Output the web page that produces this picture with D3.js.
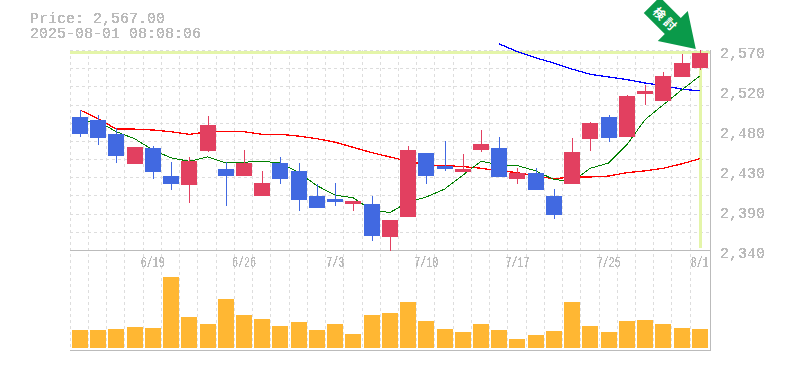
<!DOCTYPE html>
<html>
<head>
<meta charset="utf-8">
<script src="https://cdn.jsdelivr.net/npm/d3@7"></script>
<style>
  html, body { margin: 0; background: #fff; }
  svg { display: block; }
  text { font-family: "Liberation Mono", monospace; fill: #bbb; }
</style>
</head>
<body>
<div id="chart"></div>
<script>
const dates = ['6/13','6/16','6/17','6/18','6/19','6/20','6/23','6/24','6/25','6/26','6/27','6/30','7/1','7/2','7/3','7/4','7/7','7/8','7/9','7/10','7/11','7/14','7/15','7/16','7/17','7/18','7/22','7/23','7/24','7/25','7/28','7/29','7/30','7/31','8/1'];

const openPrice = [2493,2490,2473,2439,2457,2425,2415,2454,2433,2425,2402,2440,2431,2402,2399,2393,2393,2355,2378,2452,2437,2430,2455,2457,2422,2429,2402,2416,2468,2493,2470,2519,2511,2539,2549];
const closePrice = [2473,2469,2448,2458,2430,2416,2442,2484,2425,2440,2417,2422,2398,2388,2395,2396,2356,2375,2455,2425,2433,2433,2462,2424,2429,2409,2380,2453,2486,2469,2517,2523,2540,2555,2567];
const highPrice = [2501,2495,2480,2458,2460,2441,2447,2494,2441,2455,2431,2447,2440,2416,2417,2396,2402,2375,2460,2452,2465,2450,2478,2470,2434,2434,2410,2469,2487,2495,2518,2530,2545,2565,2570];
const lowPrice = [2470,2461,2440,2439,2422,2409,2394,2453,2391,2425,2402,2416,2385,2388,2391,2385,2350,2339,2378,2416,2431,2430,2453,2424,2416,2409,2376,2416,2454,2464,2470,2507,2511,2539,2547];

const volume = [18,18,19,21,20,71,31,24,49,33,29,22,26,18,24,14,33,35,46,27,19,16,24,18,9,13,17,46,22,16,27,28,24,20,19]; // thousand shares

// moving averages, the blue one only starts late in the window
const maShort = [2488,2488,2476,2468,2455,2446,2442,2447,2440,2441,2442,2440,2429,2414,2403,2400,2386,2383,2395,2401,2410,2426,2442,2438,2437,2431,2421,2419,2434,2440,2461,2490,2507,2524,2540];
const maMid = [2501,2491,2479,2479,2478,2476,2473,2476,2476,2476,2473,2473,2471,2468,2464,2458,2452,2447,2442,2438,2437,2436,2434,2431,2429,2425,2422,2424,2424,2425,2429,2431,2434,2439,2445];
const maLongDates = ['7/16','7/17','7/18','7/22','7/23','7/24','7/25','7/28','7/29','7/30','7/31','8/1'];
const maLong = [2577,2568,2561,2555,2548,2542,2539,2536,2532,2529,2525,2523];

const priceTicks = [2570,2524,2478,2432,2386,2340];
const dateTicks = ['6/19','6/26','7/3','7/10','7/17','7/25','8/1'];

const chartWidth = 785;
const chartHeight = 370;
const plotLeft = 70;
const plotRight = 710;
const plotTop = 50;
const priceBottom = 250;
const volumeBottom = 350;

const svg = d3.select('#chart').append('svg')
  .attr('width', chartWidth)
  .attr('height', chartHeight);

// hard edged text like the original bitmap font
const defs = svg.append('defs');
defs.append('filter').attr('id', 'hard')
  .append('feComponentTransfer')
  .append('feFuncA').attr('type', 'discrete').attr('tableValues', '0 1 1');

const x = d3.scaleBand()
  .domain(dates)
  .range([plotLeft + 0.8, plotRight - 1.1])
  .paddingInner(0.12)
  .paddingOuter(0.06);

const step = x.step();
const xMid = d => x(d) + x.bandwidth() / 2;
const xLeft = d => Math.round(x(d));

const y = d3.scaleLinear().domain([2340, 2570]).range([priceBottom, plotTop]);
const yVol = d3.scaleLinear().domain([0, 100]).range([volumeBottom - 2, volumeBottom - 102]);

// grid
const grid = svg.append('g')
  .attr('stroke', '#ddd')
  .attr('stroke-dasharray', '3,3')
  .attr('shape-rendering', 'crispEdges');

grid.selectAll('line.v')
  .data(dates)
  .join('line')
  .attr('class', 'v')
  .attr('x1', d => Math.round(x(d) - step * 0.06) - 0.5)
  .attr('x2', d => Math.round(x(d) - step * 0.06) - 0.5)
  .attr('y1', plotTop)
  .attr('y2', volumeBottom);

grid.selectAll('line.h')
  .data(d3.range(0, 11))
  .join('line')
  .attr('class', 'h')
  .attr('x1', plotLeft)
  .attr('x2', plotRight)
  .attr('y1', i => Math.round(y(2570 - i * 230 / 11)) + 0.5)
  .attr('y2', i => Math.round(y(2570 - i * 230 / 11)) + 0.5);

// highlight for the latest price and date
const lastDate = dates[dates.length - 1];
const lastClose = closePrice[closePrice.length - 1];
svg.append('rect')
  .attr('x', plotLeft)
  .attr('y', Math.round(y(lastClose)) - 2)
  .attr('width', plotRight - plotLeft)
  .attr('height', 3)
  .attr('fill', '#e4f5a9');
svg.append('rect')
  .attr('x', Math.round(xMid(lastDate)) - 1)
  .attr('y', Math.round(y(lastClose)) - 2)
  .attr('width', 3)
  .attr('height', 197)
  .attr('fill', '#e4f5a9');

// frame lines
const frame = svg.append('g').attr('stroke', '#bbb').attr('shape-rendering', 'crispEdges');
frame.append('line').attr('x1', plotLeft).attr('x2', plotRight + 1).attr('y1', priceBottom + 0.5).attr('y2', priceBottom + 0.5);
frame.append('line').attr('x1', plotLeft).attr('x2', plotRight + 1).attr('y1', volumeBottom + 0.5).attr('y2', volumeBottom + 0.5);
frame.append('line').attr('x1', plotRight + 0.5).attr('x2', plotRight + 0.5).attr('y1', plotTop).attr('y2', volumeBottom);

// volume
svg.append('g').selectAll('rect')
  .data(dates)
  .join('rect')
  .attr('x', xLeft)
  .attr('y', (d, i) => yVol(volume[i]))
  .attr('width', 16)
  .attr('height', (d, i) => yVol(0) - yVol(volume[i]))
  .attr('fill', '#ffb733');

// moving averages
const line = d3.line().x(d => xMid(d[0])).y(d => y(d[1]));
const drawLine = (days, values, color, w) => svg.append('path')
  .attr('d', line(days.map((d, i) => [d, values[i]])))
  .attr('fill', 'none')
  .attr('stroke', color)
  .attr('stroke-width', w)
  .attr('shape-rendering', 'crispEdges');

drawLine(maLongDates, maLong, '#0000ff', 1.3);
drawLine(dates, maMid, '#ff0000', 1.3);
drawLine(dates, maShort, '#008000', 1);

// candles
const upColor = '#e24060';
const downColor = '#4169e1';
const candleColor = (d, i) => closePrice[i] >= openPrice[i] ? upColor : downColor;

svg.append('g').selectAll('rect')
  .data(dates)
  .join('rect')
  .attr('x', d => xLeft(d) + 8)
  .attr('y', (d, i) => Math.round(y(highPrice[i])))
  .attr('width', 1)
  .attr('height', (d, i) => Math.round(y(lowPrice[i])) - Math.round(y(highPrice[i])))
  .attr('fill', candleColor);

svg.append('g').selectAll('rect')
  .data(dates)
  .join('rect')
  .attr('x', xLeft)
  .attr('y', (d, i) => Math.round(y(Math.max(openPrice[i], closePrice[i]))))
  .attr('width', 16)
  .attr('height', (d, i) => Math.max(1, Math.round(y(Math.min(openPrice[i], closePrice[i]))) - Math.round(y(Math.max(openPrice[i], closePrice[i])))))
  .attr('fill', candleColor);

// axes
const yAxis = d3.axisRight(y)
  .tickValues(priceTicks)
  .tickSize(0)
  .tickPadding(0)
  .tickFormat(v => d3.format(',')(Math.round(v / 10) * 10));

svg.append('g')
  .attr('transform', `translate(720,0)`)
  .call(yAxis)
  .call(g => g.select('.domain').remove())
  .attr('font-family', null)
  .selectAll('text')
  .attr('dy', 7.5)
  .attr('font-size', 15)
  .attr('filter', 'url(#hard)');

const xAxis = d3.axisBottom(x)
  .tickValues(dateTicks)
  .tickSize(0)
  .tickPadding(0);

svg.append('g')
  .attr('transform', `translate(0,${priceBottom})`)
  .call(xAxis)
  .call(g => g.select('.domain').remove())
  .attr('font-family', null)
  .selectAll('text')
  .attr('y', 17)
  .attr('dy', 0)
  .attr('font-size', 14)
  .attr('textLength', d => d.length * 6)
  .attr('lengthAdjust', 'spacingAndGlyphs')
  .attr('filter', 'url(#hard)');

// price header
const header = svg.append('g').attr('font-size', 15).attr('filter', 'url(#hard)');
header.append('text').attr('x', 30).attr('y', 23).text('Price: 2,567.00');
header.append('text').attr('x', 30).attr('y', 38).text('2025-08-01 08:08:06');

// arrow pointing at the latest candle
const arrow = svg.append('g')
  .attr('transform', `translate(${xMid(lastDate) - 4},${y(highPrice[highPrice.length - 1]) - 1})`);
arrow.append('polygon')
  .attr('points', '0,0 -8,-38 -15,-31 -36,-52 -52,-36 -31,-15 -38,-8')
  .attr('fill', '#0a9a4a');
arrow.append('text')
  .attr('transform', 'translate(-30,-29) rotate(45)')
  .attr('text-anchor', 'middle')
  .attr('dy', '0.36em')
  .attr('font-size', 12)
  .attr('font-weight', 700)
  .attr('letter-spacing', 3)
  .style('font-family', '"Noto Sans CJK JP"')
  .style('fill', '#fff')
  .text('検討');
</script>
</body>
</html>
